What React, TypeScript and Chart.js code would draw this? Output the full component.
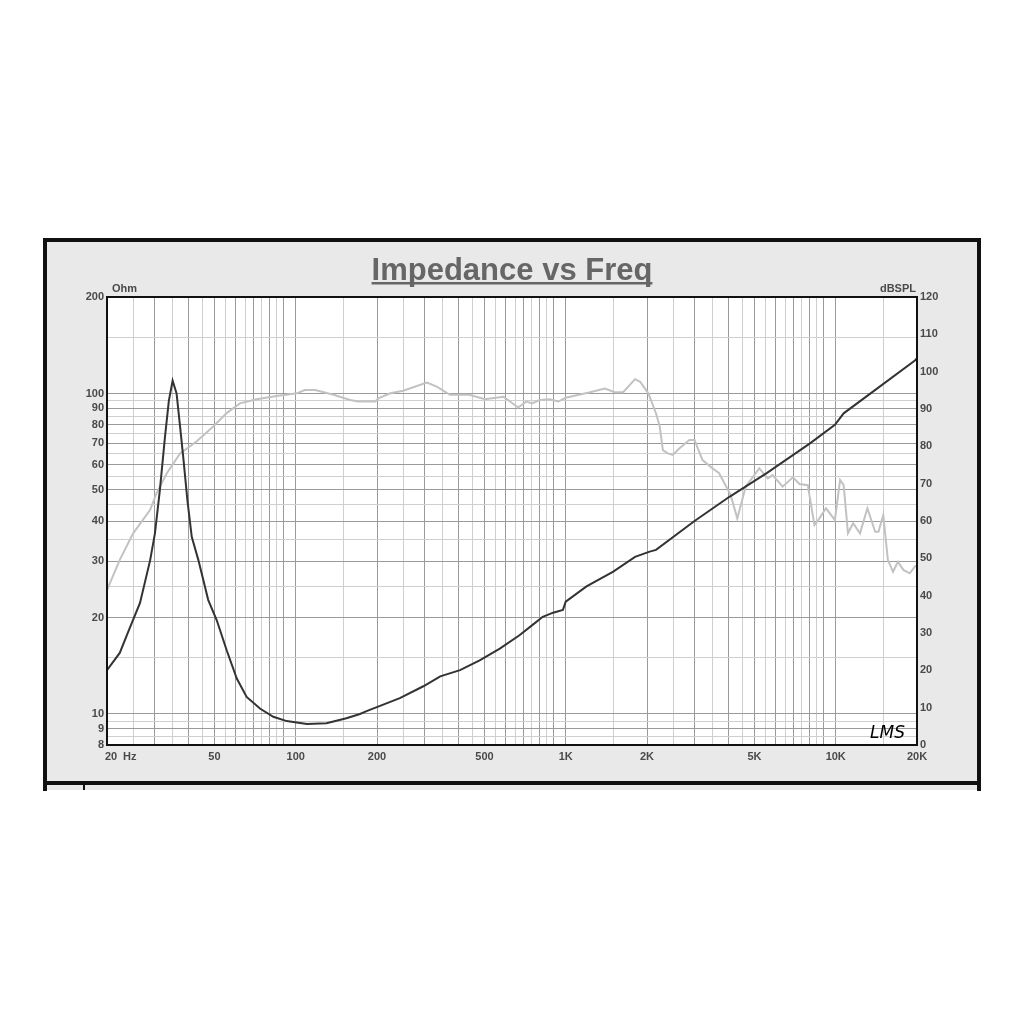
import React, { useEffect, useRef } from "react";
import { Chart, registerables } from "chart.js";

Chart.register(...registerables);

// Impedance (Ohm, left log axis)
const impFreq = [20, 22.3, 24, 26.5, 28.9, 30.1, 31.4, 32.8, 33.9, 35.0, 36.2, 37.3, 38.3, 39.7, 41.2, 43.6, 47.4, 51, 55.5, 60.5, 65.8, 73.7, 82.6, 92.6, 110, 130, 154, 173, 183, 243, 297, 343, 406, 480, 570, 674, 756, 822, 898, 976, 1000, 1194, 1500, 1806, 2046, 2160, 3000, 4040, 5550, 8030, 9930, 10700, 19700, 20000];
const impOhm = [13.7, 15.5, 18.1, 22.2, 30.2, 36.6, 50, 73.3, 95, 109.6, 100, 78.8, 63.5, 46.5, 35.7, 30.2, 22.7, 19.6, 15.8, 12.9, 11.3, 10.4, 9.8, 9.5, 9.3, 9.35, 9.7, 10, 10.2, 11.2, 12.2, 13.1, 13.7, 14.7, 16.0, 17.6, 19.0, 20.1, 20.7, 21.1, 22.4, 25.0, 27.8, 30.9, 32.1, 32.5, 40, 47.6, 56.4, 69.9, 79.8, 86.7, 127, 129];

// SPL (dB, right linear axis)
const splFreq = [20, 22.3, 25, 28.9, 30.5, 33.3, 37.3, 42.9, 49.5, 55.5, 62.1, 71.7, 85, 101, 108, 118, 138, 159, 170, 197, 203, 224, 250, 306, 333, 373, 440, 502, 588, 622, 666, 716, 750, 800, 872, 938, 1000, 1130, 1220, 1396, 1520, 1632, 1806, 1886, 2024, 2160, 2230, 2290, 2390, 2490, 2640, 2870, 3000, 3210, 3500, 3700, 4080, 4320, 4640, 5210, 5600, 5840, 6360, 6940, 7340, 7880, 8340, 8700, 9200, 9930, 10380, 10700, 11100, 11600, 12300, 13100, 14000, 14400, 15000, 15600, 16300, 17000, 17800, 18800, 19700, 20000];
const splDb = [41.5, 49.6, 56.7, 63.0, 67.4, 72.8, 78.1, 81.3, 85.3, 88.9, 91.5, 92.6, 93.5, 94.2, 95.1, 95.1, 93.8, 92.4, 92.0, 92.0, 92.9, 94.2, 94.9, 97.1, 96.0, 93.8, 93.8, 92.6, 93.3, 92.0, 90.4, 92.0, 91.5, 92.4, 92.6, 92.0, 93.0, 93.9, 94.4, 95.5, 94.5, 94.5, 98.0, 97.3, 94.2, 88.8, 85.3, 79.0, 78.1, 77.7, 79.5, 81.7, 81.7, 76.3, 74.1, 72.8, 67.0, 60.7, 69.2, 74.1, 71.4, 72.3, 69.2, 71.7, 69.9, 69.6, 58.9, 60.7, 63.4, 60.3, 71.0, 69.6, 56.7, 59.4, 56.7, 63.4, 57.1, 57.1, 61.6, 49.6, 46.4, 49.1, 46.9, 46.0, 47.9, 48.0];

// Grid / tick values
const xGridValues = [20, 25, 30, 35, 40, 45, 50, 55, 60, 65, 70, 75, 80, 85, 90, 100, 150, 200, 250, 300, 350, 400, 450, 500, 550, 600, 650, 700, 750, 800, 850, 900, 1000, 1500, 2000, 2500, 3000, 3500, 4000, 4500, 5000, 5500, 6000, 6500, 7000, 7500, 8000, 8500, 9000, 10000, 15000, 20000];
const xTickValues = [50, 100, 200, 500, 1000, 2000, 5000, 10000, 20000];
const xTickLabels = ["50", "100", "200", "500", "1K", "2K", "5K", "10K", "20K"];
const yLeftGridValues = [8, 8.5, 9, 9.5, 10, 15, 20, 25, 30, 35, 40, 45, 50, 55, 60, 65, 70, 75, 80, 85, 90, 95, 100, 150, 200];
const yLeftTickValues = [8, 9, 10, 20, 30, 40, 50, 60, 70, 80, 90, 100, 200];
const yRightTickValues = [0, 10, 20, 30, 40, 50, 60, 70, 80, 90, 100, 110, 120];

const FONT = "'Liberation Sans', Arial, sans-serif";
const LABEL_COLOR = "#4a4a4a";

function isMajor(v: number): boolean {
  const m = v / Math.pow(10, Math.floor(Math.log10(v) + 1e-9));
  return Math.abs(m - Math.round(m)) < 1e-6;
}
function gridColor(ctx: any) {
  const v = ctx.tick ? ctx.tick.value : 0;
  return isMajor(v) ? "#9a9a9a" : "#cfcfcf";
}

const decorPlugin = {
  id: "decor",
  beforeDraw(chart: any) {
    const c = chart.ctx;
    const a = chart.chartArea;
    c.save();
    c.fillStyle = "#ffffff";
    c.fillRect(0, 0, chart.width, chart.height);
    // outer panel
    c.fillStyle = "#e9e9e9";
    c.fillRect(45, 240, 934, 550);
    c.fillStyle = "#ffffff";
    c.fillRect(0, 790, chart.width, 40);
    c.fillStyle = "#111";
    c.fillRect(43, 238, 938, 4); // top
    c.fillRect(43, 238, 4, 553); // left
    c.fillRect(977, 238, 4, 553); // right
    c.fillRect(43, 781, 938, 4); // bottom
    c.fillRect(83, 785, 2, 5);
    // plot area
    c.fillStyle = "#ffffff";
    c.fillRect(a.left, a.top, a.right - a.left, a.bottom - a.top);
    // title
    c.font = "bold 31px " + FONT;
    c.fillStyle = "#666";
    c.textAlign = "center";
    c.textBaseline = "alphabetic";
    const title = "Impedance vs Freq";
    c.fillText(title, 512, 280);
    const w = c.measureText(title).width;
    c.fillRect(512 - w / 2, 282, w, 2.5);
    c.restore();
  },
  afterDraw(chart: any) {
    const c = chart.ctx;
    const a = chart.chartArea;
    const xs = chart.scales.x;
    c.save();
    c.strokeStyle = "#111";
    c.lineWidth = 2;
    c.strokeRect(a.left, a.top, a.right - a.left, a.bottom - a.top);
    c.font = "bold 11px " + FONT;
    c.fillStyle = LABEL_COLOR;
    c.textBaseline = "alphabetic";
    c.textAlign = "left";
    c.fillText("Ohm", a.left + 5, 292);
    c.textAlign = "right";
    c.fillText("dBSPL", a.right - 1, 292);
    // first x label
    c.textAlign = "left";
    c.textBaseline = "top";
    const x20 = xs.getPixelForValue(20);
    c.fillText("20", x20 - 2, a.bottom + 6);
    c.fillText("Hz", x20 + 16, a.bottom + 6);
    // signature
    c.font = "italic 17px 'DejaVu Sans', sans-serif";
    c.fillStyle = "#000";
    c.textBaseline = "alphabetic";
    c.fillText("LMS", 870, 738);
    c.restore();
  },
};

export default function App() {
  const ref = useRef<HTMLCanvasElement | null>(null);
  useEffect(() => {
    if (!ref.current) return;
    const tickFont = { family: FONT, weight: "bold" as const, size: 11 };
    const chart = new Chart(ref.current, {
      type: "line",
      data: {
        datasets: [
          {
            label: "Impedance",
            data: impFreq.map((f, i) => ({ x: f, y: impOhm[i] })),
            yAxisID: "yL",
            borderColor: "#333333",
            borderWidth: 2,
            pointRadius: 0,
            tension: 0,
          },
          {
            label: "SPL",
            data: splFreq.map((f, i) => ({ x: f, y: splDb[i] })),
            yAxisID: "yR",
            borderColor: "#c2c2c2",
            borderWidth: 2,
            pointRadius: 0,
            tension: 0,
          },
        ],
      },
      options: {
        responsive: false,
        animation: false,
        layout: { padding: { top: 297, left: 0, right: 0, bottom: 0 } },
        plugins: { legend: { display: false }, tooltip: { enabled: false }, title: { display: false } },
        scales: {
          x: {
            type: "logarithmic",
            position: "bottom",
            min: 20,
            max: 20000,
            afterBuildTicks: (s: any) => {
              s.ticks = xGridValues.map((v) => ({ value: v }));
            },
            afterFit: (s: any) => {
              s.height = 1024 - 745;
            },
            ticks: {
              autoSkip: false,
              maxRotation: 0,
              padding: 5,
              font: tickFont,
              color: LABEL_COLOR,
              callback: (v: any) => {
                const i = xTickValues.indexOf(Number(v));
                return i >= 0 ? xTickLabels[i] : "";
              },
            },
            grid: { color: gridColor, lineWidth: 1, drawTicks: false },
            border: { display: false },
          },
          yL: {
            type: "logarithmic",
            position: "left",
            min: 8,
            max: 200,
            afterBuildTicks: (s: any) => {
              s.ticks = yLeftGridValues.map((v) => ({ value: v }));
            },
            afterFit: (s: any) => {
              s.width = 107;
            },
            ticks: {
              autoSkip: false,
              padding: 3,
              font: tickFont,
              color: LABEL_COLOR,
              callback: (v: any) => (yLeftTickValues.indexOf(Number(v)) >= 0 ? String(v) : ""),
            },
            grid: { color: gridColor, lineWidth: 1, drawTicks: false },
            border: { display: false },
          },
          yR: {
            type: "linear",
            position: "right",
            min: 0,
            max: 120,
            afterBuildTicks: (s: any) => {
              s.ticks = yRightTickValues.map((v) => ({ value: v }));
            },
            afterFit: (s: any) => {
              s.width = 1024 - 917;
            },
            ticks: { autoSkip: false, padding: 3, font: tickFont, color: LABEL_COLOR },
            grid: { display: false, drawTicks: false },
            border: { display: false },
          },
        },
      },
      plugins: [decorPlugin],
    });
    return () => chart.destroy();
  }, []);
  return (
    <div style={{ position: "absolute", left: 0, top: 0, width: 1024, height: 1024 }}>
      <canvas ref={ref} width={1024} height={1024} style={{ display: "block" }} />
    </div>
  );
}
